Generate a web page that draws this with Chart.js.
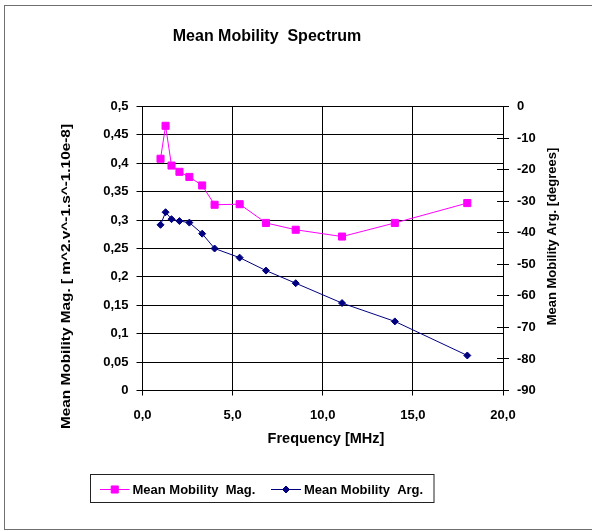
<!DOCTYPE html>
<html>
<head>
<meta charset="utf-8">
<script src="https://cdn.jsdelivr.net/npm/chart.js@4.4.1/dist/chart.umd.min.js"></script>
<style>
  html, body { margin: 0; padding: 0; background: #fff; }
  #wrap { width: 592px; height: 531px; position: relative; }
</style>
</head>
<body>
<div id="wrap"><canvas id="spectrum" width="592" height="531"></canvas></div>
<script>
// Measured mobility spectrum
const frequencyMHz = [1.0, 1.28, 1.61, 2.05, 2.6, 3.31, 4.0, 5.39, 6.85, 8.5, 11.07, 14.0, 18.02];
const mobilityMag  = [0.408, 0.466, 0.396, 0.385, 0.376, 0.361, 0.327, 0.328, 0.295, 0.283, 0.271, 0.295, 0.330];
const mobilityArg  = [-37.5, -33.5, -35.7, -36.3, -36.8, -40.3, -45.0, -47.9, -52.0, -56.0, -62.3, -68.1, -78.9];

const seriesNames = ['Mean Mobility  Mag.', 'Mean Mobility  Arg.'];
const chartTitle  = 'Mean Mobility  Spectrum';
const xTitle      = 'Frequency [MHz]';
const yTitle      = 'Mean Mobility Mag. [ m^2.v^-1.s^-1.10e-8]';
const y2Title     = 'Mean Mobility Arg. [degrees]';

// axis ranges: [min, max, step]
const freqRange = [0, 20, 5];
const magRange  = [0, 0.5, 0.05];
const argRange  = [-90, 0, 10];

const FAMILY = '"Liberation Sans", Arial, Helvetica, sans-serif';
const boldFont = px => `bold ${px}px ${FAMILY}`;
const commaNum = (v, digits) => {
  const s = digits === undefined ? String(Math.round(v * 1000) / 1000) : v.toFixed(digits);
  return s.replace('.', ',');
};
const crisp = p => Math.round(p - 0.5) + 0.5;

Chart.defaults.font.family = FAMILY;
Chart.defaults.color = '#000';

const drawPoint = (Chart.helpers && Chart.helpers.drawPoint) ? Chart.helpers.drawPoint : null;

const decorations = {
  id: 'decorations',
  beforeDraw(chart) {
    const ctx = chart.ctx;
    ctx.save();
    ctx.strokeStyle = '#707070';
    ctx.lineWidth = 1;
    ctx.strokeRect(4.5, 5.5, 620, 524);
    ctx.restore();
  },
  afterDraw(chart) {
    const ctx = chart.ctx;
    const area = chart.chartArea;
    const y2 = chart.scales.y2;

    // inner half of the cross tick marks on the right axis
    ctx.save();
    ctx.strokeStyle = '#000';
    ctx.lineWidth = 1;
    ctx.beginPath();
    y2.ticks.forEach(t => {
      const py = crisp(y2.getPixelForValue(t.value));
      ctx.moveTo(area.right - 6, py);
      ctx.lineTo(area.right, py);
    });
    ctx.stroke();
    ctx.restore();

    ctx.save();
    ctx.fillStyle = '#000';
    ctx.textBaseline = 'alphabetic';

    // chart title
    ctx.font = boldFont(16);
    ctx.textAlign = 'center';
    ctx.fillText(chartTitle, 267, 40.5);

    // x axis title
    ctx.font = boldFont(14.5);
    ctx.fillText(xTitle, 326, 442.5);

    // left axis title
    ctx.save();
    ctx.translate(69.5, 276.5);
    ctx.rotate(-Math.PI / 2);
    ctx.font = boldFont(12.5);
    const w1 = ctx.measureText(yTitle).width;
    ctx.scale(305 / w1, 1);
    ctx.fillText(yTitle, 0, 0);
    ctx.restore();

    // right axis title
    ctx.save();
    ctx.translate(556, 236.5);
    ctx.rotate(-Math.PI / 2);
    ctx.font = boldFont(13);
    ctx.fillText(y2Title, 0, 0);
    ctx.restore();

    // legend
    ctx.strokeStyle = '#222';
    ctx.lineWidth = 1;
    ctx.strokeRect(90.5, 474.5, 343.5, 28);

    const items = [
      { ds: chart.data.datasets[0], x0: 100, x1: 129.5, tx: 132.5 },
      { ds: chart.data.datasets[1], x0: 271, x1: 301, tx: 304 }
    ];
    const ly = 489.5;
    items.forEach(it => {
      const ds = it.ds;
      ctx.strokeStyle = ds.borderColor;
      ctx.lineWidth = ds.borderWidth;
      ctx.beginPath();
      ctx.moveTo(it.x0, ly);
      ctx.lineTo(it.x1, ly);
      ctx.stroke();
      const cx = (it.x0 + it.x1) / 2;
      ctx.fillStyle = ds.pointBackgroundColor;
      ctx.strokeStyle = ds.pointBorderColor;
      ctx.lineWidth = ds.pointBorderWidth;
      if (drawPoint) {
        drawPoint(ctx, { pointStyle: ds.pointStyle, radius: ds.pointRadius, rotation: 0, borderWidth: ds.pointBorderWidth }, cx, ly);
      }
      ctx.fillStyle = '#000';
      ctx.font = boldFont(13);
      ctx.textAlign = 'left';
      ctx.textBaseline = 'middle';
      ctx.fillText(ds.label, it.tx, ly + 0.5);
    });
    ctx.restore();
  }
};

const magPoints = frequencyMHz.map((f, i) => ({ x: f, y: mobilityMag[i] }));
const argPoints = frequencyMHz.map((f, i) => ({ x: f, y: mobilityArg[i] }));

new Chart(document.getElementById('spectrum'), {
  type: 'scatter',
  data: {
    datasets: [
      {
        label: seriesNames[0],
        data: magPoints,
        yAxisID: 'y',
        showLine: true,
        tension: 0,
        borderColor: '#FF00FF',
        borderWidth: 1,
        pointStyle: 'rect',
        pointRadius: 5,
        pointBackgroundColor: '#FF00FF',
        pointBorderColor: '#FF00FF',
        pointBorderWidth: 1
      },
      {
        label: seriesNames[1],
        data: argPoints,
        yAxisID: 'y2',
        showLine: true,
        tension: 0,
        borderColor: '#000080',
        borderWidth: 1,
        pointStyle: 'rectRot',
        pointRadius: 3.5,
        pointBackgroundColor: '#000080',
        pointBorderColor: '#000080',
        pointBorderWidth: 1
      }
    ]
  },
  options: {
    responsive: false,
    animation: false,
    events: [],
    layout: { padding: { left: 0, right: 0, top: 106.5, bottom: 100 } },
    plugins: {
      legend: { display: false },
      title: { display: false },
      tooltip: { enabled: false }
    },
    scales: {
      x: {
        type: 'linear',
        position: 'bottom',
        min: freqRange[0],
        max: freqRange[1],
        ticks: {
          stepSize: freqRange[2],
          padding: 12,
          color: '#000',
          font: { size: 13, weight: 'bold' },
          callback: v => commaNum(v, 1)
        },
        grid: { color: '#000', lineWidth: 1, tickLength: 5, tickColor: '#000' },
        border: { display: true, color: '#000', width: 1 },
        afterFit(s) { s.height = 40.5; }
      },
      y: {
        type: 'linear',
        position: 'left',
        min: magRange[0],
        max: magRange[1],
        ticks: {
          stepSize: magRange[2],
          padding: 8,
          color: '#000',
          font: { size: 13, weight: 'bold' },
          callback: v => commaNum(v)
        },
        grid: { color: '#000', lineWidth: 1, tickLength: 6, tickColor: '#000' },
        border: { display: true, color: '#000', width: 1 },
        afterFit(s) { s.width = 142.5; }
      },
      y2: {
        type: 'linear',
        position: 'right',
        min: argRange[0],
        max: argRange[1],
        ticks: {
          stepSize: argRange[2],
          padding: 8,
          color: '#000',
          font: { size: 13, weight: 'bold' },
          callback: v => String(Math.round(v))
        },
        grid: { drawOnChartArea: false, color: '#000', lineWidth: 1, tickLength: 6, tickColor: '#000' },
        border: { display: true, color: '#000', width: 1 },
        afterFit(s) { s.width = 89; }
      }
    }
  },
  plugins: [decorations]
});
</script>
</body>
</html>
